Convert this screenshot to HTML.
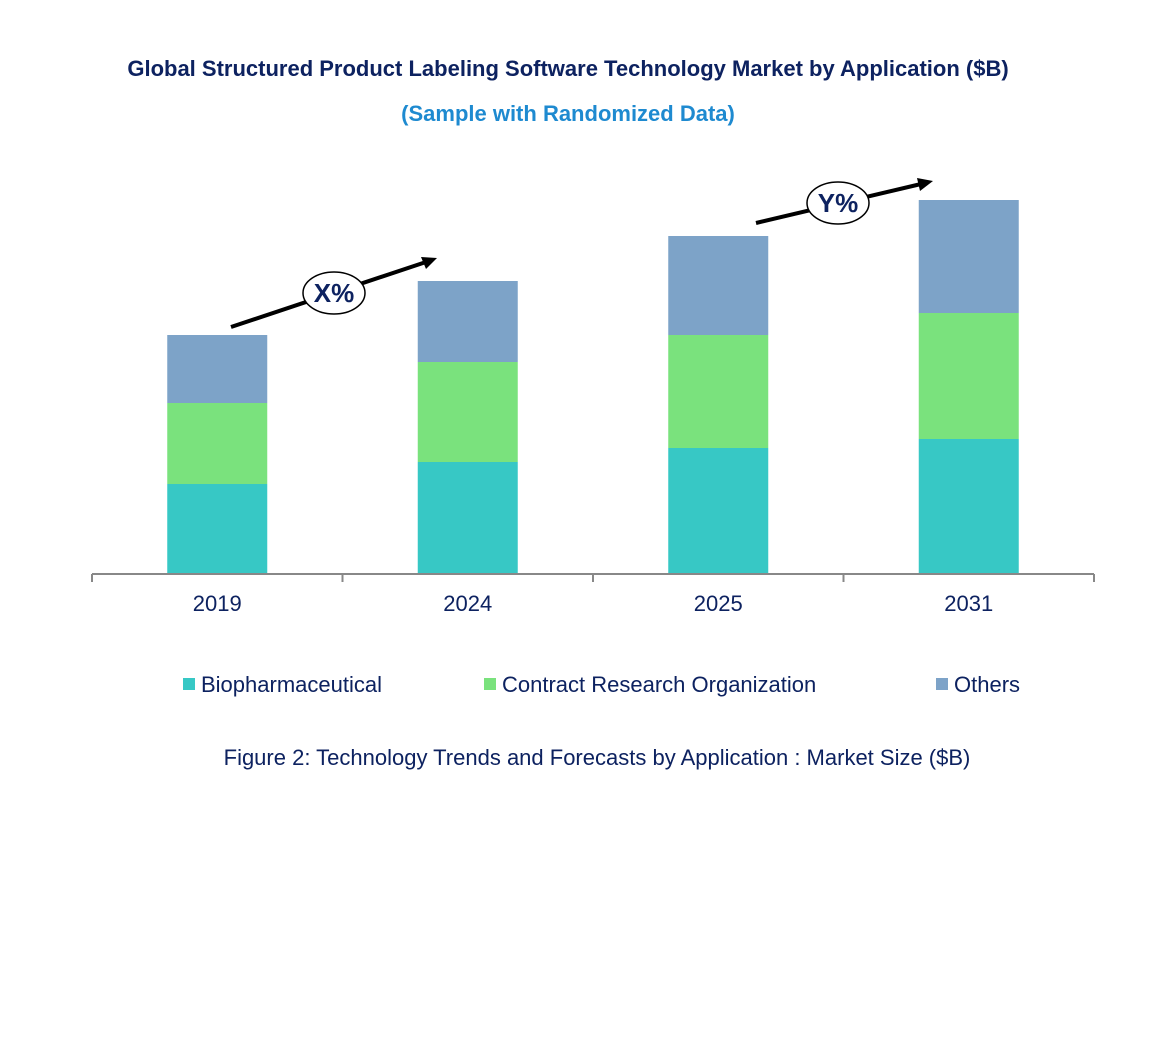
<!DOCTYPE html>
<html><head><meta charset="utf-8">
<style>
html,body{margin:0;padding:0;background:#fff;}
svg{display:block;font-family:"Liberation Sans",Arial,sans-serif;}
</style></head>
<body>
<svg id="chart" width="1158" height="1051" viewBox="0 0 1158 1051" xmlns="http://www.w3.org/2000/svg">
<text x="568" y="76" text-anchor="middle" font-size="22" font-weight="bold" fill="#0d2260">Global Structured Product Labeling Software Technology Market by Application ($B)</text>
<text x="568" y="121" text-anchor="middle" font-size="22" font-weight="bold" fill="#1e8ad0">(Sample with Randomized Data)</text>
<g id="bars"></g>
<g id="axis"></g>
<g>
<line x1="231" y1="327" x2="426" y2="262" stroke="#000" stroke-width="4"/>
<polygon points="437,258 421,257 426,269" fill="#000"/>
<ellipse cx="334" cy="293" rx="31" ry="21" fill="#fff" stroke="#000" stroke-width="1.5"/>
<text x="334" y="302" text-anchor="middle" font-size="26" font-weight="bold" fill="#0d2260">X%</text>
</g>
<g>
<line x1="756" y1="223" x2="921" y2="184" stroke="#000" stroke-width="4"/>
<polygon points="933,181 917,178 920,191" fill="#000"/>
<ellipse cx="838" cy="203" rx="31" ry="21" fill="#fff" stroke="#000" stroke-width="1.5"/>
<text x="838" y="212" text-anchor="middle" font-size="26" font-weight="bold" fill="#0d2260">Y%</text>
</g>
<g>
<g><rect x="183" y="678" width="12" height="12" fill="#37c8c5"/><text x="201" y="692" font-size="22" fill="#0d2260">Biopharmaceutical</text></g>
<g><rect x="484" y="678" width="12" height="12" fill="#7ae27d"/><text x="502" y="692" font-size="22" fill="#0d2260">Contract Research Organization</text></g>
<g><rect x="936" y="678" width="12" height="12" fill="#7da3c8"/><text x="954" y="692" font-size="22" fill="#0d2260">Others</text></g>
</g>
<text x="597" y="765" text-anchor="middle" font-size="22" fill="#0d2260">Figure 2: Technology Trends and Forecasts by Application : Market Size ($B)</text>
</svg>
<script>
const categories = ["2019","2024","2025","2031"];
const biopharma = [0.90,1.12,1.26,1.35];
const cro = [0.81,1.00,1.13,1.26];
const others = [0.68,0.81,0.99,1.13];
const seriesNames = ["Biopharmaceutical","Contract Research Organization","Others"];

const NS="http://www.w3.org/2000/svg";
const baseY=574, pxPerUnit=100, x0=92, x1=1094, barW=100;
const band=(x1-x0)/categories.length;
const xCenter=i=>x0+band*(i+0.5);
const yScale=v=>v*pxPerUnit;
const colors=["#37c8c5","#7ae27d","#7da3c8"];
const series=[biopharma,cro,others];
const barsG=document.getElementById('bars');
categories.forEach((c,i)=>{
  let y=baseY;
  series.forEach((s,k)=>{
    const h=yScale(s[i]);
    y-=h;
    const r=document.createElementNS(NS,'rect');
    r.setAttribute('x',xCenter(i)-barW/2);
    r.setAttribute('y',y);
    r.setAttribute('width',barW);
    r.setAttribute('height',h);
    r.setAttribute('fill',colors[k]);
    
    
    barsG.appendChild(r);
  });
});
const ax=document.getElementById('axis');
const line=document.createElementNS(NS,'line');
line.setAttribute('x1',x0);line.setAttribute('x2',x1);
line.setAttribute('y1',baseY);line.setAttribute('y2',baseY);
line.setAttribute('stroke','#888');line.setAttribute('stroke-width','2');


ax.appendChild(line);
for(let i=0;i<=categories.length;i++){
  const t=document.createElementNS(NS,'line');
  const x=x0+band*i;
  t.setAttribute('x1',x);t.setAttribute('x2',x);
  t.setAttribute('y1',baseY);t.setAttribute('y2',baseY+8);
  t.setAttribute('stroke','#888');t.setAttribute('stroke-width','2');
  
  
  ax.appendChild(t);
}
categories.forEach((c,i)=>{
  const t=document.createElementNS(NS,'text');
  t.setAttribute('x',xCenter(i));t.setAttribute('y',611);
  t.setAttribute('text-anchor','middle');t.setAttribute('font-size','22');
  t.setAttribute('fill','#0d2260');
  t.textContent=c;
  
  
  ax.appendChild(t);
});
</script>
</body></html>
